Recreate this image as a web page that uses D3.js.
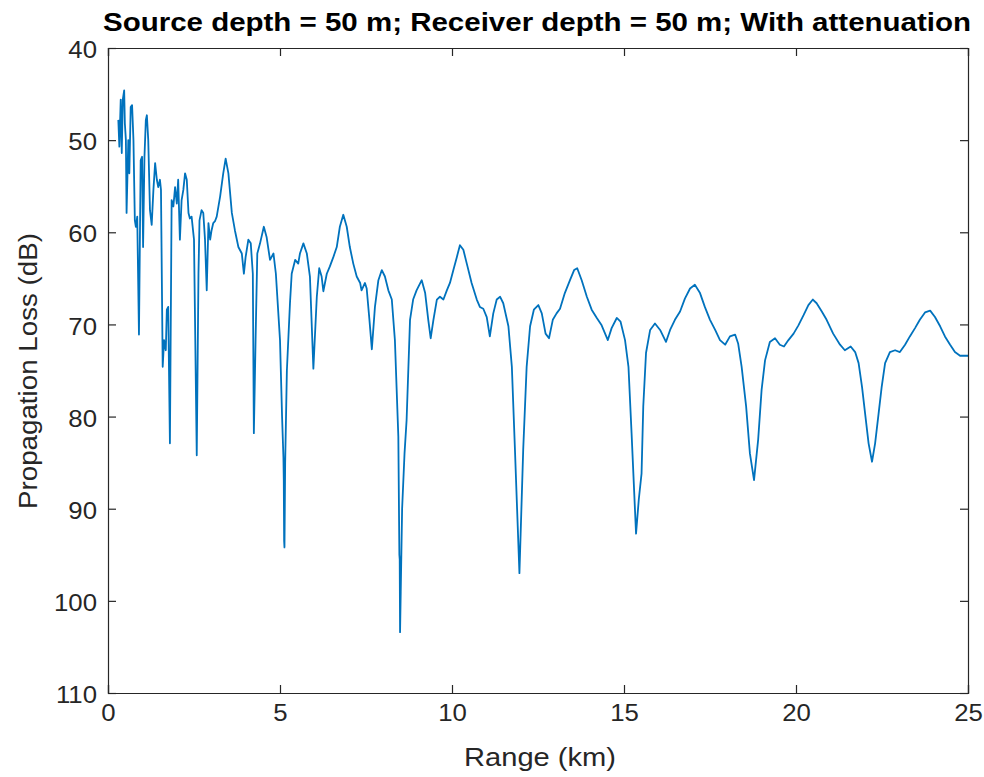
<!DOCTYPE html>
<html>
<head>
<meta charset="utf-8">
<script src="https://cdn.jsdelivr.net/npm/d3@7"></script>
<style>
  html, body { margin: 0; padding: 0; background: #fff; }
  svg { display: block; }
  text { font-family: "Liberation Sans", Arial, Helvetica, sans-serif; }
</style>
</head>
<body>
<svg id="chart" width="984" height="777"></svg>
<script>
// ---- data ----
const titleText = "Source depth = 50 m; Receiver depth = 50 m; With attenuation";
const xLabel = "Range (km)";
const yLabel = "Propagation Loss (dB)";
const xTicks = [0, 5, 10, 15, 20, 25];
const yTicks = [40, 50, 60, 70, 80, 90, 100, 110];

const rangeKm = [
  0.30, 0.33, 0.37, 0.40, 0.43, 0.47, 0.49, 0.52, 0.54, 0.59, 0.62, 0.66, 0.70, 0.74, 0.78, 0.81,
  0.85, 0.90, 0.95, 0.99, 1.02, 1.06, 1.10, 1.13, 1.17, 1.22, 1.27, 1.32, 1.37, 1.42, 1.46, 1.51,
  1.54, 1.59, 1.63, 1.68, 1.71, 1.75, 1.80, 1.85, 1.90, 1.95, 2.00, 2.04, 2.09, 2.14, 2.19, 2.24,
  2.29, 2.34, 2.38, 2.43, 2.50, 2.58, 2.63, 2.66, 2.72, 2.77, 2.82, 2.87, 2.92, 2.97, 3.01, 3.06,
  3.11, 3.16, 3.26, 3.35, 3.42, 3.50, 3.60, 3.69, 3.79, 3.89, 3.95, 4.00, 4.08, 4.15, 4.21, 4.24,
  4.29, 4.34, 4.42, 4.53, 4.61, 4.71, 4.81, 4.88, 5.00, 5.06, 5.10, 5.11, 5.12, 5.13, 5.15, 5.20,
  5.29, 5.34, 5.44, 5.53, 5.58, 5.68, 5.78, 5.87, 5.97, 6.07, 6.14, 6.21, 6.26, 6.36, 6.45, 6.55,
  6.65, 6.74, 6.84, 6.94, 7.03, 7.13, 7.23, 7.33, 7.37, 7.47, 7.52, 7.60, 7.67, 7.76, 7.86, 7.96,
  8.05, 8.15, 8.25, 8.34, 8.44, 8.47, 8.48, 8.49, 8.51, 8.55, 8.62, 8.68, 8.78, 8.87, 8.97, 9.12,
  9.22, 9.31, 9.38, 9.46, 9.56, 9.65, 9.75, 9.85, 9.94, 10.04, 10.14, 10.23, 10.33, 10.43, 10.57, 10.72,
  10.81, 10.91, 11.01, 11.10, 11.20, 11.30, 11.40, 11.49, 11.64, 11.74, 11.83, 11.96, 12.07, 12.17, 12.27, 12.38,
  12.51, 12.61, 12.72, 12.82, 12.93, 13.04, 13.14, 13.28, 13.43, 13.55, 13.64, 13.77, 13.92, 14.06, 14.21, 14.35,
  14.53, 14.64, 14.79, 14.90, 15.03, 15.13, 15.22, 15.35, 15.43, 15.51, 15.56, 15.64, 15.76, 15.90, 16.05, 16.22,
  16.34, 16.48, 16.63, 16.77, 16.92, 17.06, 17.21, 17.35, 17.50, 17.65, 17.79, 17.94, 18.08, 18.23, 18.32, 18.42,
  18.55, 18.66, 18.78, 18.90, 19.00, 19.10, 19.24, 19.39, 19.53, 19.65, 19.78, 19.93, 20.07, 20.22, 20.36, 20.49,
  20.60, 20.75, 20.89, 21.08, 21.28, 21.42, 21.59, 21.72, 21.82, 21.92, 22.01, 22.11, 22.21, 22.30, 22.40, 22.49,
  22.59, 22.73, 22.88, 23.02, 23.17, 23.31, 23.46, 23.60, 23.75, 23.90, 24.04, 24.19, 24.33, 24.48, 24.62, 24.77,
  25.00
];
const lossDb = [
  47.8, 50.7, 45.6, 51.4, 45.6, 44.6, 48.2, 50.0, 57.9, 50.0, 53.6, 46.4, 46.2, 50.0, 58.7, 59.4,
  58.3, 71.1, 52.2, 51.8, 61.6, 51.8, 47.8, 47.3, 50.0, 57.6, 59.2, 55.4, 52.5, 54.3, 55.1, 54.3,
  55.4, 74.6, 71.7, 72.8, 68.4, 68.1, 82.9, 56.5, 57.2, 55.1, 56.9, 54.3, 60.8, 56.5, 55.4, 53.6,
  54.3, 57.9, 58.5, 58.3, 60.8, 84.2, 64.5, 58.7, 57.6, 57.9, 60.8, 66.3, 59.0, 60.8, 59.8, 59.0,
  58.8, 58.3, 56.1, 53.6, 52.0, 53.6, 57.9, 59.8, 61.6, 62.3, 64.5, 62.7, 60.8, 61.2, 64.5, 81.8,
  71.7, 62.3, 61.2, 59.4, 60.5, 63.0, 62.3, 64.5, 71.7, 80.0, 84.5, 87.0, 93.5, 94.2, 85.0, 75.0,
  67.7, 64.5, 63.0, 63.4, 62.3, 61.2, 62.3, 64.8, 74.8, 67.0, 63.9, 64.8, 66.4, 64.5, 63.7, 62.7,
  61.6, 59.4, 58.1, 59.4, 61.6, 63.4, 64.8, 65.5, 66.3, 65.5, 66.1, 69.5, 72.7, 68.1, 65.2, 64.1,
  64.8, 66.3, 67.3, 71.7, 82.2, 95.0, 95.5, 103.4, 99.0, 90.0, 84.0, 80.4, 69.5, 67.3, 66.3, 65.2,
  66.6, 69.5, 71.5, 69.5, 67.3, 67.0, 67.3, 66.3, 65.5, 64.1, 62.7, 61.4, 61.9, 63.4, 65.5, 67.3,
  68.1, 68.3, 69.2, 71.3, 68.8, 67.3, 67.0, 67.7, 70.2, 74.6, 83.6, 97.0, 83.6, 74.6, 70.2, 68.4,
  67.9, 68.8, 71.0, 71.5, 69.5, 68.8, 68.3, 66.6, 65.2, 64.1, 63.9, 65.2, 67.0, 68.4, 69.3, 70.1,
  71.7, 70.4, 69.3, 69.7, 71.7, 74.6, 81.8, 92.7, 89.0, 86.2, 78.9, 73.1, 70.6, 69.9, 70.6, 71.9,
  70.6, 69.5, 68.6, 67.2, 66.1, 65.7, 66.6, 68.1, 69.5, 70.6, 71.7, 72.2, 71.3, 71.1, 72.1, 74.6,
  78.9, 84.0, 86.9, 82.5, 77.1, 73.9, 71.9, 71.5, 72.2, 72.4, 71.7, 71.0, 70.1, 69.0, 67.9, 67.3,
  67.7, 68.6, 69.5, 71.0, 72.2, 72.8, 72.4, 73.0, 74.2, 76.8, 79.7, 82.9, 84.9, 82.9, 79.7, 76.8,
  74.2, 73.0, 72.8, 73.0, 72.2, 71.3, 70.4, 69.5, 68.7, 68.5, 69.2, 70.2, 71.3, 72.2, 73.0, 73.4,
  73.4
];

// ---- layout ----
const margin = { left: 108, right: 16, top: 48, bottom: 84 };
const W = 984, H = 777;
const svg = d3.select("#chart");
const innerW = W - margin.left - margin.right;
const innerH = H - margin.top - margin.bottom;

const x = d3.scaleLinear().domain([0, 25]).range([margin.left, margin.left + innerW]);
const y = d3.scaleLinear().domain([40, 110]).range([margin.top, margin.top + innerH]);

const axisColor = "#262626";
const tickLen = 8;
const stretch = 1.12; // reference text is a bit wider than Liberation Sans

svg.append("rect").attr("x", 0).attr("y", 0).attr("width", W).attr("height", H).attr("fill", "#fff");

svg.append("defs").append("clipPath").attr("id", "clip")
  .append("rect").attr("x", margin.left).attr("y", margin.top).attr("width", innerW).attr("height", innerH);

// data line
const pts = rangeKm.map((r, i) => [r, lossDb[i]]);
const line = d3.line().x(d => x(d[0])).y(d => y(d[1]));
svg.append("path")
  .datum(pts)
  .attr("clip-path", "url(#clip)")
  .attr("fill", "none")
  .attr("stroke", "#0072BD")
  .attr("stroke-width", 1.8)
  .attr("stroke-linejoin", "round")
  .attr("d", line);

// axes (ticks pointing inward)
const fmt = d3.format("d");
const xAxisB = d3.axisBottom(x).tickValues(xTicks).tickSize(-tickLen).tickPadding(12).tickFormat(fmt);
const xAxisT = d3.axisTop(x).tickValues(xTicks).tickSize(-tickLen).tickFormat("");
const yAxisL = d3.axisLeft(y).tickValues(yTicks).tickSize(-tickLen).tickPadding(11).tickFormat(fmt);
const yAxisR = d3.axisRight(y).tickValues(yTicks).tickSize(-tickLen).tickFormat("");

function widen(sel) {
  sel.each(function () {
    const w = this.getComputedTextLength();
    d3.select(this).attr("textLength", w * stretch).attr("lengthAdjust", "spacingAndGlyphs");
  });
}

function style(g) {
  g.selectAll("path.domain").attr("stroke", axisColor).attr("stroke-width", 1.2);
  g.selectAll(".tick line").attr("stroke", axisColor).attr("stroke-width", 1.2);
  g.selectAll(".tick text").attr("fill", axisColor).style("font-size", "23px")
    .style("font-family", "'Liberation Sans', Arial, sans-serif");
}

svg.append("g").attr("transform", `translate(0,${margin.top + innerH})`).call(xAxisB).call(style)
  .selectAll(".tick text").call(widen);
svg.append("g").attr("transform", `translate(0,${margin.top})`).call(xAxisT).call(style);
svg.append("g").attr("transform", `translate(${margin.left},0)`).call(yAxisL).call(style)
  .selectAll(".tick text").attr("dy", "0.42em").call(widen);
svg.append("g").attr("transform", `translate(${margin.left + innerW},0)`).call(yAxisR).call(style);

// title
svg.append("text")
  .attr("x", 537)
  .attr("y", 31)
  .attr("text-anchor", "middle")
  .attr("fill", "#000")
  .style("font-size", "25px")
  .style("font-weight", "bold")
  .attr("textLength", 868)
  .attr("lengthAdjust", "spacingAndGlyphs")
  .text(titleText);

// axis labels
svg.append("text")
  .attr("x", 540)
  .attr("y", 766)
  .attr("text-anchor", "middle")
  .attr("fill", axisColor)
  .style("font-size", "26px")
  .attr("textLength", 152)
  .attr("lengthAdjust", "spacingAndGlyphs")
  .text(xLabel);

svg.append("text")
  .attr("transform", `translate(37,371) rotate(-90)`)
  .attr("text-anchor", "middle")
  .attr("fill", axisColor)
  .style("font-size", "26px")
  .attr("textLength", 276)
  .attr("lengthAdjust", "spacingAndGlyphs")
  .text(yLabel);
</script>
</body>
</html>
